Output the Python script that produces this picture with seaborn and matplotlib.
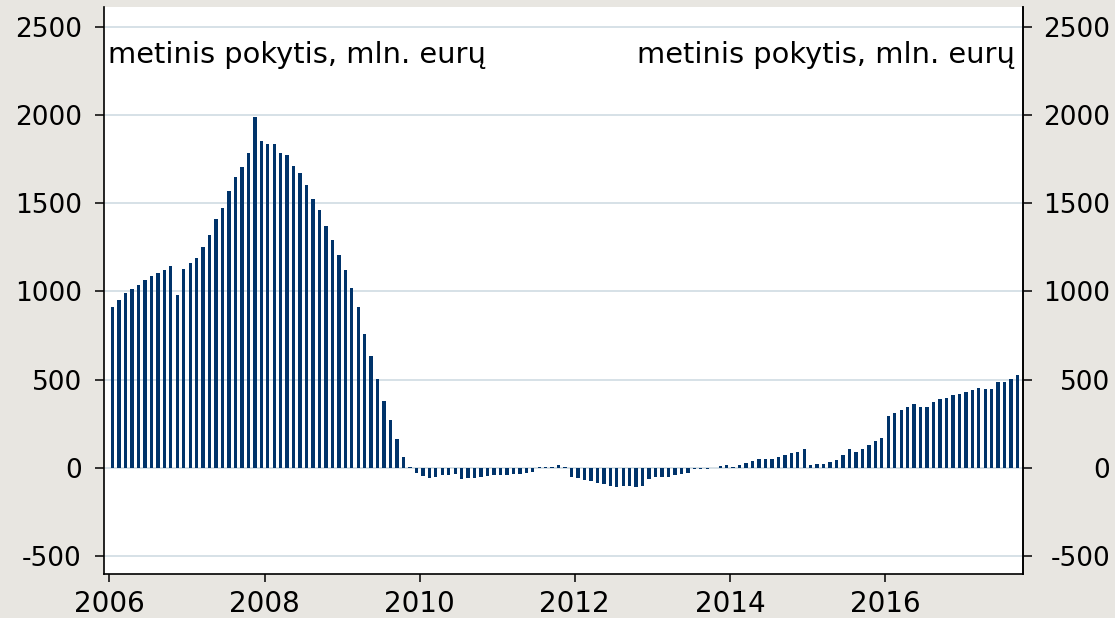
import matplotlib
matplotlib.use("Agg")
import matplotlib.pyplot as plt
import pandas as pd
import seaborn as sns

# monthly annual change, mln. EUR (Jan 2006 - Sep 2017)
y2006 = [912, 951, 991, 1013, 1036, 1066, 1087, 1102, 1121, 1142, 980, 1127]
y2007 = [1159, 1191, 1250, 1319, 1410, 1472, 1567, 1650, 1706, 1785, 1988, 1854]
y2008 = [1837, 1835, 1785, 1772, 1710, 1670, 1604, 1523, 1463, 1369, 1289, 1206]
y2009 = [1121, 1018, 910, 757, 636, 504, 381, 272, 162, 64, 8, -28]
y2010 = [-47, -54, -53, -42, -40, -34, -60, -55, -55, -53, -43, -42]
y2011 = [-38, -38, -36, -32, -28, -25, 3, 5, 8, 17, 5, -49]
y2012 = [-58, -66, -74, -87, -89, -104, -106, -102, -102, -106, -102, -60]
y2013 = [-51, -53, -49, -38, -32, -28, -8, -6, -8, 2, 11, 17]
y2014 = [6, 15, 28, 40, 51, 51, 51, 62, 74, 85, 91, 106]
y2015 = [19, 23, 23, 34, 45, 74, 106, 92, 108, 130, 153, 170]
y2016 = [293, 313, 327, 344, 362, 344, 344, 372, 391, 398, 415, 417]
y2017 = [432, 442, 451, 447, 445, 485, 487, 504, 527]

values = (y2006 + y2007 + y2008 + y2009 + y2010 + y2011 + y2012 + y2013
          + y2014 + y2015 + y2016 + y2017)
months = pd.date_range("2006-01-01", periods=len(values), freq="MS").strftime("%Y-%m")

year_labels = ["2006", "2008", "2010", "2012", "2014", "2016"]
y_ticks = [-500, 0, 500, 1000, 1500, 2000, 2500]
note = "metinis pokytis, mln. eurų"

bg = "#e8e6e1"
bar_color = "#00336a"
grid_color = "#d0dbe3"

sns.set_style("white")
plt.rcParams["font.family"] = ["DejaVu Sans"]

df = pd.DataFrame({"month": months, "value": values})

fig = plt.figure(figsize=(11.15, 6.18), dpi=100, facecolor=bg)
ax = fig.add_axes([0.0933, 0.0707, 0.8245, 0.9175])
ax.set_facecolor("white")

sns.barplot(data=df, x="month", y="value", color=bar_color, saturation=1,
            width=0.52, linewidth=0, errorbar=None, ax=ax, zorder=3)

ax.set_xlim(-1.33, 140.9)
ax.set_ylim(-602, 2609)
ax.set_xticks([24 * i - 0.5 for i in range(len(year_labels))], labels=year_labels)
ax.set_yticks(y_ticks, labels=[str(v) for v in y_ticks])
ax.set_xlabel("")
ax.set_ylabel("")
ax.yaxis.grid(True, color=grid_color, linewidth=1.2, zorder=0)
ax.xaxis.grid(False)
ax.set_axisbelow(True)

ax.tick_params(axis="x", bottom=True, direction="out", length=6, width=1.1,
               labelsize=20, pad=5.5, color="black", labelcolor="black")
ax.tick_params(axis="y", left=True, direction="out", length=6.5, width=1.1,
               labelsize=19, pad=9.4, color="black", labelcolor="black")

for side in ["left", "right", "bottom"]:
    ax.spines[side].set_color("black")
    ax.spines[side].set_linewidth(1.2)
ax.spines["top"].set_visible(False)

ax2 = ax.twinx()
ax2.set_ylim(ax.get_ylim())
ax2.set_yticks(y_ticks, labels=[str(v) for v in y_ticks], ha="right")
ax2.tick_params(axis="y", right=True, direction="out", length=6.5, width=1.1,
                labelsize=19, pad=56, color="black", labelcolor="black")
for side in ["top", "left", "bottom"]:
    ax2.spines[side].set_visible(False)
ax2.spines["right"].set_color("black")
ax2.spines["right"].set_linewidth(1.2)
ax2.grid(False)

ax.text(0.0044, 0.902, note, transform=ax.transAxes, fontsize=20.8,
        ha="left", va="baseline", color="black", zorder=5)
ax.text(0.991, 0.902, note, transform=ax.transAxes, fontsize=20.8,
        ha="right", va="baseline", color="black", zorder=5)

fig.savefig("out.png", dpi=100, facecolor=bg)
